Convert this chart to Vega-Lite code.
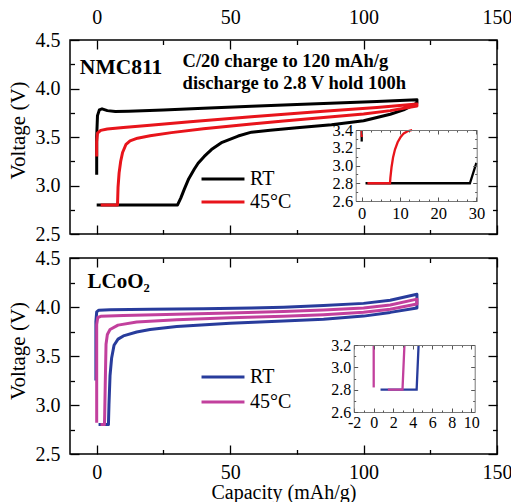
{
  "$schema": "https://vega.github.io/schema/vega-lite/v6.json",
  "padding": {"left": 6, "top": 6, "right": 0, "bottom": 0},
  "background": "white",
  "datasets": {
    "nmc": [
      {"s":"RT","i":0,"x":0,"y":3.11},{"s":"RT","i":1,"x":0,"y":3.5},{"s":"RT","i":2,"x":0.3,"y":3.72},{"s":"RT","i":3,"x":1,"y":3.78},{"s":"RT","i":4,"x":2,"y":3.79},{"s":"RT","i":5,"x":4,"y":3.772},{"s":"RT","i":6,"x":7,"y":3.762},{"s":"RT","i":7,"x":12,"y":3.765},{"s":"RT","i":8,"x":25,"y":3.778},{"s":"RT","i":9,"x":40,"y":3.797},{"s":"RT","i":10,"x":58,"y":3.818},{"s":"RT","i":11,"x":75,"y":3.835},{"s":"RT","i":12,"x":90,"y":3.85},{"s":"RT","i":13,"x":105,"y":3.866},{"s":"RT","i":14,"x":120,"y":3.885},
      {"s":"RT","i":15,"x":120,"y":3.85},{"s":"RT","i":16,"x":115,"y":3.78},{"s":"RT","i":17,"x":110,"y":3.735},{"s":"RT","i":18,"x":100,"y":3.668},{"s":"RT","i":19,"x":88,"y":3.627},{"s":"RT","i":20,"x":75,"y":3.595},{"s":"RT","i":21,"x":65,"y":3.57},{"s":"RT","i":22,"x":58,"y":3.55},{"s":"RT","i":23,"x":53,"y":3.51},{"s":"RT","i":24,"x":47,"y":3.445},{"s":"RT","i":25,"x":43,"y":3.37},{"s":"RT","i":26,"x":40.3,"y":3.3},{"s":"RT","i":27,"x":38,"y":3.23},{"s":"RT","i":28,"x":36.6,"y":3.17},{"s":"RT","i":29,"x":34.5,"y":3.07},{"s":"RT","i":30,"x":32.8,"y":2.96},{"s":"RT","i":31,"x":31.5,"y":2.87},{"s":"RT","i":32,"x":30.3,"y":2.8},{"s":"RT","i":33,"x":0,"y":2.8},
      {"s":"45°C","i":0,"x":0,"y":3.3},{"s":"45°C","i":1,"x":0,"y":3.45},{"s":"45°C","i":2,"x":0.3,"y":3.54},{"s":"45°C","i":3,"x":1.5,"y":3.568},{"s":"45°C","i":4,"x":4,"y":3.583},{"s":"45°C","i":5,"x":10,"y":3.598},{"s":"45°C","i":6,"x":20,"y":3.622},{"s":"45°C","i":7,"x":35,"y":3.658},{"s":"45°C","i":8,"x":58,"y":3.708},{"s":"45°C","i":9,"x":85,"y":3.765},{"s":"45°C","i":10,"x":105,"y":3.803},{"s":"45°C","i":11,"x":120,"y":3.84},
      {"s":"45°C","i":12,"x":120,"y":3.82},{"s":"45°C","i":13,"x":110,"y":3.772},{"s":"45°C","i":14,"x":100,"y":3.737},{"s":"45°C","i":15,"x":85,"y":3.7},{"s":"45°C","i":16,"x":70,"y":3.665},{"s":"45°C","i":17,"x":58,"y":3.635},{"s":"45°C","i":18,"x":40,"y":3.585},{"s":"45°C","i":19,"x":28,"y":3.545},{"s":"45°C","i":20,"x":20,"y":3.512},{"s":"45°C","i":21,"x":15.3,"y":3.488},{"s":"45°C","i":22,"x":12.5,"y":3.46},{"s":"45°C","i":23,"x":11,"y":3.425},{"s":"45°C","i":24,"x":9.7,"y":3.34},{"s":"45°C","i":25,"x":9,"y":3.25},{"s":"45°C","i":26,"x":8.4,"y":3.13},{"s":"45°C","i":27,"x":8,"y":2.98},{"s":"45°C","i":28,"x":7.8,"y":2.8},{"s":"45°C","i":29,"x":1.5,"y":2.8}
    ],
    "nmcIn": [
      {"s":"RT","g":"a","i":0,"x":0,"y":3.27},{"s":"RT","g":"a","i":1,"x":0,"y":3.4},
      {"s":"RT","g":"b","i":0,"x":30,"y":3.03},{"s":"RT","g":"b","i":1,"x":28.3,"y":2.8},{"s":"RT","g":"b","i":2,"x":1,"y":2.8},
      {"s":"45°C","g":"a","i":0,"x":0,"y":3.32},{"s":"45°C","g":"a","i":1,"x":0,"y":3.4},
      {"s":"45°C","g":"b","i":0,"x":13.2,"y":3.4},{"s":"45°C","g":"b","i":1,"x":12,"y":3.386},{"s":"45°C","g":"b","i":2,"x":11,"y":3.362},{"s":"45°C","g":"b","i":3,"x":10.2,"y":3.322},{"s":"45°C","g":"b","i":4,"x":9.4,"y":3.262},{"s":"45°C","g":"b","i":5,"x":8.7,"y":3.18},{"s":"45°C","g":"b","i":6,"x":8.2,"y":3.09},{"s":"45°C","g":"b","i":7,"x":7.8,"y":2.98},{"s":"45°C","g":"b","i":8,"x":7.5,"y":2.86},{"s":"45°C","g":"b","i":9,"x":7.4,"y":2.8},{"s":"45°C","g":"b","i":10,"x":1.5,"y":2.8}
    ],
    "lco": [
      {"s":"RT","i":0,"x":-0.3,"y":3.25},{"s":"RT","i":1,"x":-0.3,"y":3.85},{"s":"RT","i":2,"x":0,"y":3.95},{"s":"RT","i":3,"x":0.8,"y":3.968},{"s":"RT","i":4,"x":5,"y":3.973},{"s":"RT","i":5,"x":20,"y":3.977},{"s":"RT","i":6,"x":40,"y":3.982},{"s":"RT","i":7,"x":58,"y":3.99},{"s":"RT","i":8,"x":70,"y":3.998},{"s":"RT","i":9,"x":85,"y":4.015},{"s":"RT","i":10,"x":100,"y":4.037},{"s":"RT","i":11,"x":110,"y":4.068},{"s":"RT","i":12,"x":120,"y":4.13},
      {"s":"RT","i":13,"x":120,"y":3.99},{"s":"RT","i":14,"x":110,"y":3.945},{"s":"RT","i":15,"x":100,"y":3.907},{"s":"RT","i":16,"x":85,"y":3.876},{"s":"RT","i":17,"x":70,"y":3.856},{"s":"RT","i":18,"x":50,"y":3.835},{"s":"RT","i":19,"x":30,"y":3.8},{"s":"RT","i":20,"x":20,"y":3.77},{"s":"RT","i":21,"x":15,"y":3.745},{"s":"RT","i":22,"x":10,"y":3.705},{"s":"RT","i":23,"x":8,"y":3.672},{"s":"RT","i":24,"x":6.5,"y":3.61},{"s":"RT","i":25,"x":5.6,"y":3.48},{"s":"RT","i":26,"x":5,"y":3.3},{"s":"RT","i":27,"x":4.6,"y":3.0},{"s":"RT","i":28,"x":4.4,"y":2.8},{"s":"RT","i":29,"x":0.7,"y":2.8},
      {"s":"45°C","i":0,"x":0,"y":2.82},{"s":"45°C","i":1,"x":0,"y":3.82},{"s":"45°C","i":2,"x":0.4,"y":3.893},{"s":"45°C","i":3,"x":1.5,"y":3.905},{"s":"45°C","i":4,"x":10,"y":3.913},{"s":"45°C","i":5,"x":30,"y":3.925},{"s":"45°C","i":6,"x":50,"y":3.94},{"s":"45°C","i":7,"x":70,"y":3.955},{"s":"45°C","i":8,"x":85,"y":3.97},{"s":"45°C","i":9,"x":100,"y":3.99},{"s":"45°C","i":10,"x":110,"y":4.02},{"s":"45°C","i":11,"x":120,"y":4.08},
      {"s":"45°C","i":12,"x":120,"y":4.03},{"s":"45°C","i":13,"x":110,"y":3.977},{"s":"45°C","i":14,"x":100,"y":3.946},{"s":"45°C","i":15,"x":85,"y":3.922},{"s":"45°C","i":16,"x":70,"y":3.906},{"s":"45°C","i":17,"x":50,"y":3.89},{"s":"45°C","i":18,"x":30,"y":3.87},{"s":"45°C","i":19,"x":15,"y":3.847},{"s":"45°C","i":20,"x":8,"y":3.815},{"s":"45°C","i":21,"x":5,"y":3.77},{"s":"45°C","i":22,"x":4,"y":3.72},{"s":"45°C","i":23,"x":3.5,"y":3.62},{"s":"45°C","i":24,"x":3.2,"y":3.2},{"s":"45°C","i":25,"x":3.0,"y":2.9},{"s":"45°C","i":26,"x":2.9,"y":2.8},{"s":"45°C","i":27,"x":1.45,"y":2.8}
    ],
    "lcoIn": [
      {"s":"RT","g":"b","i":0,"x":4.6,"y":3.2},{"s":"RT","g":"b","i":1,"x":4.4,"y":2.8},{"s":"RT","g":"b","i":2,"x":0.7,"y":2.8},
      {"s":"45°C","g":"a","i":0,"x":0,"y":2.82},{"s":"45°C","g":"a","i":1,"x":0,"y":3.2},
      {"s":"45°C","g":"b","i":0,"x":3.15,"y":3.2},{"s":"45°C","g":"b","i":1,"x":2.95,"y":2.8},{"s":"45°C","g":"b","i":2,"x":1.45,"y":2.8}
    ]
  },
  "vconcat": [
    {
      "width": 427, "height": 194,
      "layer": [
        {
          "layer": [
            {
              "data": {"name": "nmc"},
              "mark": {"type": "line", "strokeWidth": 3, "strokeJoin": "round"},
              "encoding": {
                "x": {"field": "x", "type": "quantitative", "scale": {"domain": [-10, 150], "nice": false, "zero": false},
                  "axis": {"orient": "top", "values": [0,50,100,150], "ticks": false, "title": null, "labelPadding": 13}},
                "y": {"field": "y", "type": "quantitative", "scale": {"domain": [2.5, 4.5], "nice": false, "zero": false},
                  "axis": {"orient": "left", "values": [2.5,3,3.5,4,4.5], "format": ".1f", "ticks": false,
                    "title": "Voltage (V)", "titlePadding": 7, "titleY": 90, "labelPadding": 10}},
                "color": {"field": "s", "type": "nominal", "scale": {"domain": ["RT", "45°C"], "range": ["#000000", "#e8141b"]},
                  "legend": {"orient": "none", "legendX": 143, "legendY": 129, "title": null, "symbolType": "M-3,0H3", "symbolSize": 205,
                    "symbolStrokeWidth": 3, "labelFont": "Liberation Serif", "labelFontSize": 20, "labelColor": "#000", "labelOffset": 17, "rowPadding": 3, "padding": 0}},
                "order": {"field": "i", "type": "quantitative"}
              }
            },
            {
              "data": {"values": [{}]},
              "mark": {"type": "text", "font": "Liberation Serif", "fontWeight": "bold", "fontSize": 21.5, "align": "left", "baseline": "middle", "color": "#000"},
              "encoding": {"x": {"datum": -6.3, "type": "quantitative"}, "y": {"datum": 4.21, "type": "quantitative"}, "text": {"value": "NMC811"}}
            },
            {
              "data": {"values": [{}]},
              "mark": {"type": "text", "font": "Liberation Serif", "fontWeight": "bold", "fontSize": 18.5, "align": "left", "baseline": "middle", "lineHeight": 22, "color": "#000"},
              "encoding": {"x": {"datum": 32.2, "type": "quantitative"}, "y": {"datum": 4.28, "type": "quantitative"}, "text": {"value": ["C/20 charge to 120 mAh/g", "discharge to 2.8 V hold 100h"]}}
            }
          ]
        },
        {
          "data": {"name": "nmc"},
          "mark": {"type": "point", "opacity": 0},
          "encoding": {
            "x": {"field": "x", "type": "quantitative", "scale": {"domain": [-10, 150], "nice": false, "zero": false},
              "axis": {"orient": "top", "offset": -194, "values": [0,25,50,75,100,125,150], "labels": false, "title": null,
                "tickSize": {"condition": {"test": "datum.value % 50 === 0", "value": 9}, "value": 4.5}}},
            "y": {"field": "y", "type": "quantitative", "scale": {"domain": [2.5, 4.5], "nice": false, "zero": false},
              "axis": {"orient": "right", "offset": -427, "values": [2.5,2.75,3,3.25,3.5,3.75,4,4.25,4.5], "labels": false, "title": null,
                "tickSize": {"condition": {"test": "abs(datum.value*2 - round(datum.value*2)) < 0.01", "value": 9}, "value": 4.5}}}
          }
        },
        {
          "data": {"name": "nmc"},
          "mark": {"type": "point", "opacity": 0},
          "encoding": {
            "x": {"field": "x", "type": "quantitative", "scale": {"domain": [-10, 150], "nice": false, "zero": false},
              "axis": {"orient": "bottom", "offset": -194, "values": [0,25,50,75,100,125,150], "labels": false, "title": null,
                "tickSize": {"condition": {"test": "datum.value % 50 === 0", "value": 9}, "value": 4.5}}},
            "y": {"field": "y", "type": "quantitative", "scale": {"domain": [2.5, 4.5], "nice": false, "zero": false},
              "axis": {"orient": "left", "offset": -427, "values": [2.5,2.75,3,3.25,3.5,3.75,4,4.25,4.5], "labels": false, "title": null,
                "tickSize": {"condition": {"test": "abs(datum.value*2 - round(datum.value*2)) < 0.01", "value": 9}, "value": 4.5}}}
          }
        },
        {
          "layer": [
            {
              "data": {"values": [{}]},
              "mark": {"type": "rect", "fill": "white"},
              "encoding": {
                "x": {"datum": -1.57, "type": "quantitative", "scale": {"domain": [-1.57, 30.08], "range": [285.7, 406.7], "nice": false, "zero": false}},
                "x2": {"datum": 30.08},
                "y": {"datum": 2.6, "type": "quantitative", "scale": {"domain": [2.6, 3.4], "range": [161, 90], "nice": false, "zero": false}},
                "y2": {"datum": 3.4}
              }
            },
            {
              "data": {"name": "nmcIn"},
              "mark": {"type": "line", "strokeWidth": 2.3},
              "encoding": {
                "x": {"field": "x", "type": "quantitative", "scale": {"domain": [-1.57, 30.08], "range": [285.7, 406.7], "nice": false, "zero": false},
                  "axis": {"orient": "bottom", "offset": -33, "zindex": 1, "domain": true, "domainColor": "#777", "domainWidth": 1, "ticks": false, "values": [0,10,20,30],
                    "labelFontSize": 16.5, "labelPadding": 4, "title": null}},
                "y": {"field": "y", "type": "quantitative", "scale": {"domain": [2.6, 3.4], "range": [161, 90], "nice": false, "zero": false},
                  "axis": {"orient": "left", "offset": -285.7, "zindex": 1, "domain": true, "domainColor": "#777", "domainWidth": 1, "ticks": false, "values": [2.6,2.8,3.0,3.2,3.4], "format": ".1f",
                    "labelFontSize": 16.5, "labelPadding": 3, "title": null}},
                "color": {"field": "s", "type": "nominal", "legend": null},
                "detail": {"field": "g"},
                "order": {"field": "i", "type": "quantitative"}
              }
            }
          ]
        },
        {
          "data": {"name": "nmcIn"},
          "mark": {"type": "point", "opacity": 0},
          "encoding": {
            "x": {"field": "x", "type": "quantitative", "scale": {"domain": [-1.57, 30.08], "range": [285.7, 406.7], "nice": false, "zero": false},
              "axis": {"orient": "top", "offset": -161, "zindex": 1, "labels": false, "title": null, "values": [0,2.5,5,7.5,10,12.5,15,17.5,20,22.5,25,27.5,30], "tickColor": "#555", "tickWidth": 1,
                "tickSize": {"condition": {"test": "datum.value % 10 === 0", "value": 4}, "value": 2}}},
            "y": {"field": "y", "type": "quantitative", "scale": {"domain": [2.6, 3.4], "range": [161, 90], "nice": false, "zero": false},
              "axis": {"orient": "right", "offset": -141.3, "zindex": 1, "labels": false, "title": null, "values": [2.6,2.7,2.8,2.9,3.0,3.1,3.2,3.3,3.4], "tickColor": "#555", "tickWidth": 1,
                "tickSize": {"condition": {"test": "abs(datum.value*5 - round(datum.value*5)) < 0.01", "value": 4}, "value": 2}}}
          }
        },
        {
          "data": {"name": "nmcIn"},
          "mark": {"type": "point", "opacity": 0},
          "encoding": {
            "x": {"field": "x", "type": "quantitative", "scale": {"domain": [-1.57, 30.08], "range": [285.7, 406.7], "nice": false, "zero": false},
              "axis": {"orient": "bottom", "offset": -104, "zindex": 1, "domain": true, "domainColor": "#777", "domainWidth": 1, "labels": false, "title": null, "values": [0,2.5,5,7.5,10,12.5,15,17.5,20,22.5,25,27.5,30], "tickColor": "#555", "tickWidth": 1,
                "tickSize": {"condition": {"test": "datum.value % 10 === 0", "value": 4}, "value": 2}}},
            "y": {"field": "y", "type": "quantitative", "scale": {"domain": [2.6, 3.4], "range": [161, 90], "nice": false, "zero": false},
              "axis": {"orient": "left", "offset": -406.7, "zindex": 1, "domain": true, "domainColor": "#777", "domainWidth": 1, "labels": false, "title": null, "values": [2.6,2.7,2.8,2.9,3.0,3.1,3.2,3.3,3.4], "tickColor": "#555", "tickWidth": 1,
                "tickSize": {"condition": {"test": "abs(datum.value*5 - round(datum.value*5)) < 0.01", "value": 4}, "value": 2}}}
          }
        }
      ],
      "resolve": {"scale": {"x": "independent", "y": "independent"}}
    },
    {
      "width": 427, "height": 196,
      "layer": [
        {
          "layer": [
            {
              "data": {"name": "lco"},
              "mark": {"type": "line", "strokeWidth": 3, "strokeJoin": "round"},
              "encoding": {
                "x": {"field": "x", "type": "quantitative", "scale": {"domain": [-10, 150], "nice": false, "zero": false},
                  "axis": {"orient": "bottom", "values": [0,50,100,150], "ticks": false, "title": "Capacity (mAh/g)", "titleFontSize": 20, "titlePadding": 0, "labelPadding": 8}},
                "y": {"field": "y", "type": "quantitative", "scale": {"domain": [2.5, 4.5], "nice": false, "zero": false},
                  "axis": {"orient": "left", "values": [2.5,3,3.5,4,4.5], "format": ".1f", "ticks": false,
                    "title": "Voltage (V)", "titlePadding": 7, "titleY": 92.5, "labelPadding": 10}},
                "color": {"field": "s", "type": "nominal", "scale": {"domain": ["RT", "45°C"], "range": ["#283c9c", "#c2409d"]},
                  "legend": {"orient": "none", "legendX": 143, "legendY": 109, "title": null, "symbolType": "M-3,0H3", "symbolSize": 205,
                    "symbolStrokeWidth": 3, "labelFont": "Liberation Serif", "labelFontSize": 20, "labelColor": "#000", "labelOffset": 17, "rowPadding": 5, "padding": 0}},
                "order": {"field": "i", "type": "quantitative"}
              }
            },
            {
              "data": {"values": [{}]},
              "mark": {"type": "text", "font": "Liberation Serif", "fontWeight": "bold", "fontSize": 21, "align": "left", "baseline": "middle", "color": "#000"},
              "encoding": {"x": {"datum": -3.4, "type": "quantitative"}, "y": {"datum": 4.255, "type": "quantitative"}, "text": {"value": "LCoO₂"}}
            }
          ]
        },
        {
          "data": {"name": "lco"},
          "mark": {"type": "point", "opacity": 0},
          "encoding": {
            "x": {"field": "x", "type": "quantitative", "scale": {"domain": [-10, 150], "nice": false, "zero": false},
              "axis": {"orient": "top", "offset": -196, "values": [0,25,50,75,100,125,150], "labels": false, "title": null,
                "tickSize": {"condition": {"test": "datum.value % 50 === 0", "value": 9}, "value": 4.5}}},
            "y": {"field": "y", "type": "quantitative", "scale": {"domain": [2.5, 4.5], "nice": false, "zero": false},
              "axis": {"orient": "right", "offset": -427, "values": [2.5,2.75,3,3.25,3.5,3.75,4,4.25,4.5], "labels": false, "title": null,
                "tickSize": {"condition": {"test": "abs(datum.value*2 - round(datum.value*2)) < 0.01", "value": 9}, "value": 4.5}}}
          }
        },
        {
          "data": {"name": "lco"},
          "mark": {"type": "point", "opacity": 0},
          "encoding": {
            "x": {"field": "x", "type": "quantitative", "scale": {"domain": [-10, 150], "nice": false, "zero": false},
              "axis": {"orient": "bottom", "offset": -196, "values": [0,25,50,75,100,125,150], "labels": false, "title": null,
                "tickSize": {"condition": {"test": "datum.value % 50 === 0", "value": 9}, "value": 4.5}}},
            "y": {"field": "y", "type": "quantitative", "scale": {"domain": [2.5, 4.5], "nice": false, "zero": false},
              "axis": {"orient": "left", "offset": -427, "values": [2.5,2.75,3,3.25,3.5,3.75,4,4.25,4.5], "labels": false, "title": null,
                "tickSize": {"condition": {"test": "abs(datum.value*2 - round(datum.value*2)) < 0.01", "value": 9}, "value": 4.5}}}
          }
        },
        {
          "layer": [
            {
              "data": {"values": [{}]},
              "mark": {"type": "rect", "fill": "white"},
              "encoding": {
                "x": {"datum": -2.05, "type": "quantitative", "scale": {"domain": [-2.05, 10.35], "range": [283.7, 404.7], "nice": false, "zero": false}},
                "x2": {"datum": 10.35},
                "y": {"datum": 2.6, "type": "quantitative", "scale": {"domain": [2.6, 3.2], "range": [154, 87], "nice": false, "zero": false}},
                "y2": {"datum": 3.2}
              }
            },
            {
              "data": {"name": "lcoIn"},
              "mark": {"type": "line", "strokeWidth": 2.3},
              "encoding": {
                "x": {"field": "x", "type": "quantitative", "scale": {"domain": [-2.05, 10.35], "range": [283.7, 404.7], "nice": false, "zero": false},
                  "axis": {"orient": "bottom", "offset": -42, "zindex": 1, "domain": true, "domainColor": "#777", "domainWidth": 1, "ticks": false, "values": [-2,0,2,4,6,8,10],
                    "labelExpr": "datum.value < 0 ? '-' + abs(datum.value) : datum.label",
                    "labelFontSize": 16, "labelPadding": 2, "title": null}},
                "y": {"field": "y", "type": "quantitative", "scale": {"domain": [2.6, 3.2], "range": [154, 87], "nice": false, "zero": false},
                  "axis": {"orient": "left", "offset": -283.7, "zindex": 1, "domain": true, "domainColor": "#777", "domainWidth": 1, "ticks": false, "values": [2.6,2.8,3.0,3.2], "format": ".1f",
                    "labelFontSize": 16, "labelPadding": 3, "title": null}},
                "color": {"field": "s", "type": "nominal", "legend": null},
                "detail": {"field": "g"},
                "order": {"field": "i", "type": "quantitative"}
              }
            }
          ]
        },
        {
          "data": {"name": "lcoIn"},
          "mark": {"type": "point", "opacity": 0},
          "encoding": {
            "x": {"field": "x", "type": "quantitative", "scale": {"domain": [-2.05, 10.35], "range": [283.7, 404.7], "nice": false, "zero": false},
              "axis": {"orient": "top", "offset": -154, "zindex": 1, "labels": false, "title": null, "values": [-2,-1,0,1,2,3,4,5,6,7,8,9,10], "tickColor": "#555", "tickWidth": 1,
                "tickSize": {"condition": {"test": "datum.value % 2 === 0", "value": 4}, "value": 2}}},
            "y": {"field": "y", "type": "quantitative", "scale": {"domain": [2.6, 3.2], "range": [154, 87], "nice": false, "zero": false},
              "axis": {"orient": "right", "offset": -143.3, "zindex": 1, "labels": false, "title": null, "values": [2.6,2.7,2.8,2.9,3.0,3.1,3.2], "tickColor": "#555", "tickWidth": 1,
                "tickSize": {"condition": {"test": "abs(datum.value*5 - round(datum.value*5)) < 0.01", "value": 4}, "value": 2}}}
          }
        },
        {
          "data": {"name": "lcoIn"},
          "mark": {"type": "point", "opacity": 0},
          "encoding": {
            "x": {"field": "x", "type": "quantitative", "scale": {"domain": [-2.05, 10.35], "range": [283.7, 404.7], "nice": false, "zero": false},
              "axis": {"orient": "bottom", "offset": -109, "zindex": 1, "domain": true, "domainColor": "#777", "domainWidth": 1, "labels": false, "title": null, "values": [-2,-1,0,1,2,3,4,5,6,7,8,9,10], "tickColor": "#555", "tickWidth": 1,
                "tickSize": {"condition": {"test": "datum.value % 2 === 0", "value": 4}, "value": 2}}},
            "y": {"field": "y", "type": "quantitative", "scale": {"domain": [2.6, 3.2], "range": [154, 87], "nice": false, "zero": false},
              "axis": {"orient": "left", "offset": -404.7, "zindex": 1, "domain": true, "domainColor": "#777", "domainWidth": 1, "labels": false, "title": null, "values": [2.6,2.7,2.8,2.9,3.0,3.1,3.2], "tickColor": "#555", "tickWidth": 1,
                "tickSize": {"condition": {"test": "abs(datum.value*5 - round(datum.value*5)) < 0.01", "value": 4}, "value": 2}}}
          }
        }
      ],
      "resolve": {"scale": {"x": "independent", "y": "independent"}}
    }
  ],
  "spacing": 2,
  "resolve": {"scale": {"color": "independent"}, "legend": {"color": "independent"}},
  "config": {
    "view": {"stroke": "#000", "strokeWidth": 1.5},
    "axis": {"grid": false, "domain": false, "labelFont": "Liberation Serif", "labelFontSize": 20, "labelColor": "#000",
      "titleFont": "Liberation Serif", "titleFontSize": 21, "titleFontWeight": "normal", "titleColor": "#000",
      "tickColor": "#000", "tickWidth": 1.3, "labelOverlap": false, "labelFlush": false, "labelBound": false}
  }
}
